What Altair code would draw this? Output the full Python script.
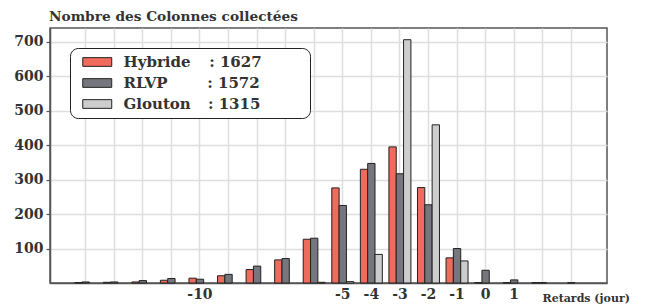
import altair as alt
import pandas as pd

# ---- data ----
delays = list(range(-14, 4))
hybride = [1, 2, 3, 8, 14, 21, 39, 67, 127, 276, 330, 395, 277, 73, 1, 1, 1, 0]
rlvp = [3, 3, 7, 13, 11, 25, 49, 71, 130, 225, 347, 317, 227, 100, 37, 9, 1, 1]
glouton = [0, 0, 0, 0, 0, 0, 0, 0, 2, 4, 83, 706, 459, 64, 0, 0, 0, 0]
algos = ["Hybride", "RLVP", "Glouton"]
totals = [1627, 1572, 1315]
NB = "\u00a0"
pads = [NB * 3 + "\u2009", NB * 7 + "\u2009", NB * 3 + "\u200a"]
colors = ["#f06b5b", "#76767e", "#cdcdcd"]
labelled = [-10, -5, -4, -3, -2, -1, 0, 1]
y_ticks = [100, 200, 300, 400, 500, 600, 700]

FONT = "DejaVu Serif"
TXT = "#333333"

legend_labels = [f"{a}{p}: {t}" + NB * 8 + "\u200b" for a, p, t in zip(algos, pads, totals)]

rows = []
for series, lab in zip([hybride, rlvp, glouton], legend_labels):
    for d, v in zip(delays, series):
        rows.append({"delay": d, "serie": lab, "value": v})
df = pd.DataFrame(rows)

label_expr = "indexof([" + ",".join(str(v) for v in labelled) + "], datum.value) >= 0 ? datum.label : ''"

chart = (
    alt.Chart(df)
    .transform_filter("datum.value > 0")
    .mark_bar(stroke="#222222", strokeWidth=1)
    .encode(
        x=alt.X(
            "delay:O",
            scale=alt.Scale(domain=delays, paddingInner=0.23, paddingOuter=0.865),
            axis=alt.Axis(
                title="Retards (jour)",
                titleX=492,
                titleY=18,
                titleAlign="left",
                titleBaseline="alphabetic",
                titleFont=FONT,
                titleFontSize=11,
                titleFontWeight="bold",
                titleColor=TXT,
                labelExpr=label_expr,
                labelAngle=0,
                labelFont=FONT,
                labelFontSize=14,
                labelFontWeight="bold",
                labelColor=TXT,
                labelPadding=4,
                bandPosition=0.5,
                grid=True,
                gridColor="#dedede",
                gridWidth=1.5,
                ticks=False,
                domainColor="#555555",
                domainWidth=1.5,
            ),
        ),
        xOffset=alt.XOffset(
            "serie:N",
            sort=legend_labels,
            scale=alt.Scale(domain=legend_labels, paddingInner=0, paddingOuter=0),
        ),
        y=alt.Y(
            "value:Q",
            scale=alt.Scale(domain=[0, 740], nice=False),
            axis=alt.Axis(
                title=None,
                values=y_ticks,
                labelFont=FONT,
                labelFontSize=14,
                labelFontWeight="bold",
                labelColor=TXT,
                labelPadding=3,
                tickSize=4,
                tickColor="#555555",
                tickWidth=1.2,
                grid=True,
                gridColor="#dedede",
                gridWidth=1.5,
                domainColor="#555555",
                domainWidth=1.5,
            ),
        ),
        color=alt.Color(
            "serie:N",
            sort=legend_labels,
            scale=alt.Scale(domain=legend_labels, range=colors),
            legend=alt.Legend(
                title=None,
                orient="none",
                legendX=20,
                legendY=20,
                padding=6,
                fillColor="white",
                strokeColor="#222222",
                cornerRadius=8,
                symbolType="M-2,-0.6L2,-0.6L2,0.6L-2,0.6Z",
                symbolSize=210,
                symbolStrokeColor="#222222",
                symbolStrokeWidth=1,
                symbolOpacity=1,
                symbolOffset=13.25,
                labelFont=FONT,
                labelFontSize=15,
                labelFontWeight="bold",
                labelColor=TXT,
                labelOffset=18.25,
                labelLimit=400,
                rowPadding=5,
            ),
        ),
    )
    .properties(
        width=557,
        height=255,
        title=alt.Title(
            "Nombre des Colonnes collectées",
            anchor="start",
            frame="group",
            font=FONT,
            fontSize=13.7,
            fontWeight="bold",
            color=TXT,
            offset=4,
            dx=-1,
        ),
        autosize=alt.AutoSizeParams(type="none"),
        padding={"left": 42, "top": 20, "right": 29, "bottom": 30},
    )
    .configure_view(stroke="#555555", strokeWidth=1.5)
)

chart.save("out.html", embed_options={"renderer": "svg", "actions": False})
